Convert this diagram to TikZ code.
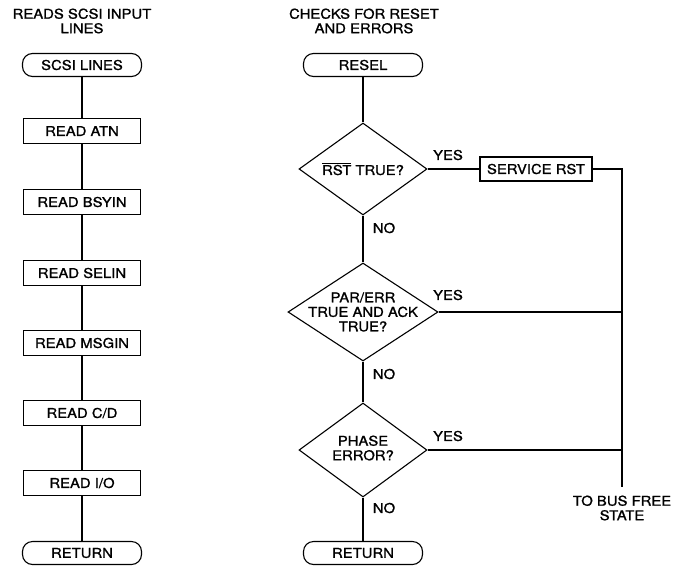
\documentclass[tikz,border=0pt]{standalone}
\usepackage{fontspec}
\setmainfont{TeX Gyre Heros}[FakeStretch=1.1,FakeBold=1.2]
\usetikzlibrary{shapes.geometric}
\newcommand\obarx[1]{\setbox0\hbox{#1}\rlap{\rule[\dimexpr\ht0+1.2pt\relax]{\wd0}{0.9pt}}\box0\relax}
\begin{document}
\begin{tikzpicture}[x=1pt,y=-1pt, line width=1.1pt,
  every node/.style={font=\fontsize{13.5}{14.5}\selectfont, inner sep=0pt},
  proc/.style={draw, minimum width=117pt, minimum height=25pt},
  term/.style={draw, rounded corners=10pt, minimum width=119pt, minimum height=23pt},
  dec/.style={draw, diamond, minimum width=#1, inner sep=0pt},
  txt/.style={align=center}]
\useasboundingbox (0,0) rectangle (676,568);
% titles
\node[txt] (t1) at (82,21) {READS SCSI INPUT\\LINES};
\node[txt] (t2) at (364,21) {CHECKS FOR RESET\\AND ERRORS};
% left column
\node[term] (scsi) at (82,65) {SCSI LINES};
\node[proc] (atn) at (82,131) {READ ATN};
\node[proc] (bsy) at (82,202) {READ BSYIN};
\node[proc] (sel) at (82,273) {READ SELIN};
\node[proc] (msg) at (82,343) {READ MSGIN};
\node[proc] (cd) at (82,413) {READ C/D};
\node[proc] (io) at (82,483) {READ I/O};
\node[term] (ret1) at (82,553) {RETURN};
\draw (scsi) -- (atn) -- (bsy) -- (sel) -- (msg) -- (cd) -- (io) -- (ret1);
% right column
\node[term] (resel) at (363,65) {RESEL};
\node[dec=128pt, minimum height=92pt] (d1) at (363,169) {};
\node[txt] (d1t) at (363,169) {\obarx{RST} TRUE?};
\node[dec=150pt, minimum height=98pt] (d2) at (363,312) {};
\node[txt] (d2t) at (363,312) {PAR/ERR\\TRUE AND ACK\\TRUE?};
\node[dec=128pt, minimum height=94pt] (d3) at (363,450) {};
\node[txt] (d3t) at (363,448) {PHASE\\ERROR?};
\node[term] (ret2) at (363,553) {RETURN};
\node[proc, minimum width=112pt, minimum height=24pt] (srv) at (536,169) {SERVICE RST};
\coordinate (c1) at (622,169);
\coordinate (bus) at (622,487);
\node[txt] (bust) at (622,508) {TO BUS FREE\\STATE};
\draw (resel) -- (d1.north);
\draw (d1.south) -- (d2.north);
\draw (d2.south) -- (d3.north);
\draw (d3.south) -- (ret2);
\draw (d1.east) -- (srv.west);
\draw (srv.east) -- (c1) -- (bus);
\draw (d2.east) -- (d2.east -| c1);
\draw (d3.east) -- (d3.east -| c1);
% labels
\node (y1) at (448,155) {YES};
\node (y2) at (448,295) {YES};
\node (y3) at (448,436) {YES};
\node (n1) at (384,228) {NO};
\node (n2) at (384,374) {NO};
\node (n3) at (384,508) {NO};
\end{tikzpicture}
\end{document}
